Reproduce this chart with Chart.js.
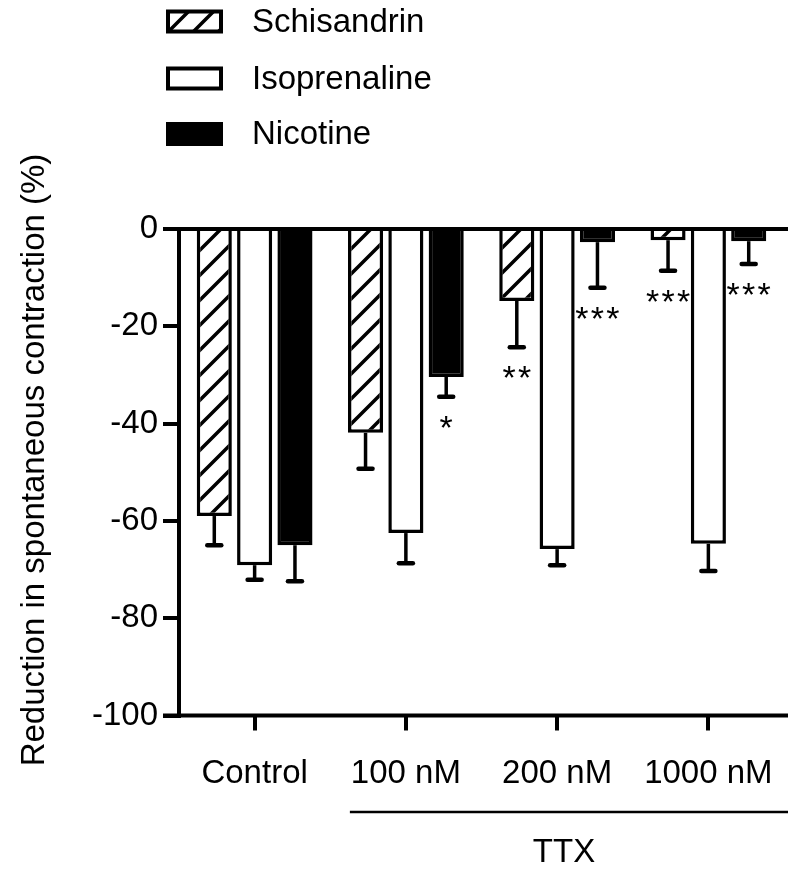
<!DOCTYPE html>
<html>
<head>
<meta charset="utf-8">
<script src="https://cdn.jsdelivr.net/npm/chart.js@4.4.1/dist/chart.umd.min.js"></script>
<style>
  html, body { margin: 0; padding: 0; background: #fff; }
  #wrap { width: 788px; height: 870px; }
</style>
</head>
<body>
<div id="wrap"><canvas id="chart" width="788" height="870"></canvas></div>
<script>
const categories = ['Control', '100 nM', '200 nM', '1000 nM'];
const seriesNames = ['Schisandrin', 'Isoprenaline', 'Nicotine'];

const schisandrin = [-59.0, -41.9, -14.8, -2.3];
const isoprenaline = [-69.1, -62.5, -65.8, -64.7];
const nicotine = [-65.0, -30.4, -2.7, -2.5];

const schisandrinSem = [6.0, 7.4, 9.5, 6.3];
const isoprenalineSem = [3.0, 6.2, 3.3, 5.6];
const nicotineSem = [7.4, 4.1, 9.4, 4.7];

const schisandrinStars = ['', '', '**', '***'];
const isoprenalineStars = ['', '', '', ''];
const nicotineStars = ['', '*', '***', '***'];

const yMin = -100, yMax = 0, yStep = 20;
const yTitle = 'Reduction in spontaneous contraction (%)';
const groupLabel = 'TTX';

const FONT = 'Liberation Sans, Arial, sans-serif';

function makeHatch() {
  const s = 25;
  const c = document.createElement('canvas');
  c.width = s; c.height = s;
  const g = c.getContext('2d');
  g.fillStyle = '#fff';
  g.fillRect(0, 0, s, s);
  g.strokeStyle = '#000';
  g.lineWidth = 3.5;
  g.beginPath();
  g.moveTo(-2, s + 2); g.lineTo(s + 2, -2);
  g.moveTo(-2, 2); g.lineTo(2, -2);
  g.moveTo(s - 2, s + 2); g.lineTo(s + 2, s - 2);
  g.stroke();
  return g.createPattern(c, 'repeat');
}
const hatch = makeHatch();
const fills = [hatch, '#ffffff', '#000000'];

const overlay = {
  id: 'overlay',
  afterDatasetsDraw(chart) {
    const ctx = chart.ctx;
    const ys = chart.scales.y;
    const xs = chart.scales.x;
    ctx.save();
    ctx.strokeStyle = '#000';
    ctx.fillStyle = '#000';

    // error bars (downward only) and significance stars
    chart.data.datasets.forEach((ds, di) => {
      const meta = chart.getDatasetMeta(di);
      meta.data.forEach((bar, i) => {
        const yc = ys.getPixelForValue(ds.data[i] - ds.sem[i]);
        ctx.lineWidth = 3.5;
        ctx.lineCap = 'butt';
        ctx.beginPath();
        ctx.moveTo(bar.x, bar.y);
        ctx.lineTo(bar.x, yc);
        ctx.stroke();
        ctx.lineWidth = 4.5;
        ctx.lineCap = 'round';
        ctx.beginPath();
        ctx.moveTo(bar.x - 7, yc);
        ctx.lineTo(bar.x + 7, yc);
        ctx.stroke();

        const st = ds.stars[i];
        if (st) {
          ctx.font = '34px ' + FONT;
          ctx.textAlign = 'center';
          ctx.textBaseline = 'alphabetic';
          for (let k = 0; k < st.length; k++) {
            ctx.fillText('*', bar.x + (k - (st.length - 1) / 2) * 15.5, yc + 42);
          }
        }
      });
    });

    // zero line and bottom axis line across full width
    const area = chart.chartArea;
    ctx.lineCap = 'butt';
    ctx.lineWidth = 4;
    const y0 = ys.getPixelForValue(0);
    const yB = ys.getPixelForValue(yMin);
    ctx.beginPath();
    ctx.moveTo(area.left - 16, y0); ctx.lineTo(chart.width, y0);
    ctx.moveTo(area.left - 16, yB); ctx.lineTo(chart.width, yB);
    ctx.stroke();

    // TTX bracket line and label
    ctx.lineWidth = 2.5;
    const lx = xs.getPixelForValue(1) - 56;
    ctx.beginPath();
    ctx.moveTo(lx, 812); ctx.lineTo(chart.width, 812);
    ctx.stroke();
    ctx.font = '33px ' + FONT;
    ctx.textAlign = 'center';
    ctx.textBaseline = 'alphabetic';
    ctx.fillText(groupLabel, 564, 862);

    // y axis title
    ctx.save();
    ctx.translate(44, 460);
    ctx.rotate(-Math.PI / 2);
    ctx.fillText(yTitle, 0, 0);
    ctx.restore();

    // legend
    const boxY = [21.5, 78.5, 134];
    seriesNames.forEach((name, i) => {
      const cy = boxY[i];
      ctx.fillStyle = fills[i];
      ctx.fillRect(168, cy - 10, 53, 20);
      ctx.lineWidth = 4;
      ctx.strokeStyle = '#000';
      ctx.strokeRect(168, cy - 10, 53, 20);
      ctx.fillStyle = '#000';
      ctx.font = '33px ' + FONT;
      ctx.textAlign = 'left';
      ctx.textBaseline = 'middle';
      ctx.fillText(name, 252, cy + 1);
    });

    ctx.restore();
  }
};

new Chart(document.getElementById('chart'), {
  type: 'bar',
  data: {
    labels: categories,
    datasets: [
      { label: seriesNames[0], data: schisandrin, sem: schisandrinSem, stars: schisandrinStars, backgroundColor: fills[0] },
      { label: seriesNames[1], data: isoprenaline, sem: isoprenalineSem, stars: isoprenalineStars, backgroundColor: fills[1] },
      { label: seriesNames[2], data: nicotine, sem: nicotineSem, stars: nicotineStars, backgroundColor: fills[2] }
    ].map(d => Object.assign(d, {
      borderColor: '#000',
      borderWidth: 3.5,
      categoryPercentage: 0.8,
      barPercentage: 0.87
    }))
  },
  options: {
    responsive: false,
    animation: false,
    layout: { padding: { top: 229, right: 4, left: 0, bottom: 0 } },
    plugins: { legend: { display: false }, tooltip: { enabled: false } },
    scales: {
      x: {
        offset: true,
        grid: { display: true, offset: false, drawOnChartArea: false, drawTicks: true, tickLength: 15, lineWidth: 4, color: '#000' },
        border: { display: false },
        ticks: { color: '#000', font: { size: 33, family: FONT }, padding: 24, maxRotation: 0, autoSkip: false },
        afterFit: s => { s.height = 154.5; s.paddingLeft = 0; s.paddingRight = 0; }
      },
      y: {
        min: yMin,
        max: yMax,
        ticks: { stepSize: yStep, color: '#000', font: { size: 33, family: FONT }, padding: 5 },
        grid: { display: true, drawOnChartArea: false, drawTicks: true, tickLength: 16, lineWidth: 4, color: '#000' },
        border: { display: true, width: 4, color: '#000' },
        afterFit: s => { s.width = 179; s.paddingTop = 0; s.paddingBottom = 0; }
      }
    }
  },
  plugins: [overlay]
});
</script>
</body>
</html>
